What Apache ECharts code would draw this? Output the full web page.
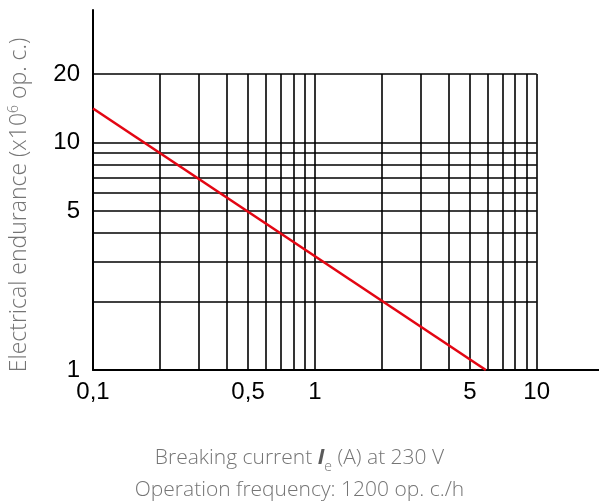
<!DOCTYPE html>
<html><head><meta charset="utf-8">
<script src="https://cdn.jsdelivr.net/npm/echarts@6/dist/echarts.min.js"></script>
<style>html,body{margin:0;padding:0;background:#fff}#c{width:599px;height:502px}</style>
</head><body><div id="c"></div>
<script>
// Tick labels
const xTickValues = [0.1, 0.5, 1, 5, 10];
const xTickLabels = ['0,1', '0,5', '1', '5', '10'];
const yTickValues = [1, 5, 10, 20];
const yTickLabels = ['1', '5', '10', '20'];
// Grid lines (log-paper style)
const xGridValues = [0.2, 0.3, 0.4, 0.5, 0.6, 0.7, 0.8, 0.9, 1, 2, 3, 4, 5, 6, 7, 8, 9, 10];
const yGridValues = [2, 3, 4, 5, 6, 7, 8, 9, 10, 20];
const gridXRange = [0.1, 10];
const gridYRange = [1, 20];
// Curve: breaking current (A) vs electrical endurance (x10^6 op. c.)
const currentA = [0.1, 5.9];
const endurance = [14.1, 1];

const gridLines = [];
xGridValues.forEach(v => gridLines.push([{coord: [v, gridYRange[0]]}, {coord: [v, gridYRange[1]]}]));
yGridValues.forEach(v => gridLines.push([{coord: [gridXRange[0], v]}, {coord: [gridXRange[1], v]}]));

const chart = echarts.init(document.getElementById('c'));
const tickFont = {fontFamily: '"Liberation Sans Narrow", "Arial Narrow", sans-serif', fontSize: 24, color: '#000'};
const textFont = '"Open Sans", "Liberation Sans", Arial, sans-serif';
const gray = '#757575';
chart.setOption({
  animation: false,
  backgroundColor: '#fff',
  title: {
    left: 'center', top: 437,
    text: '{n|Breaking current }{i|I}{s|e}{n| (A) at 230 V}\n{n|Operation frequency: 1200 op. c./h}',
    textStyle: {
      fontWeight: 'normal',
      rich: {
        n: {fontFamily: textFont, fontSize: 21, fontWeight: 300, color: gray, lineHeight: 32},
        i: {fontFamily: textFont, fontSize: 21, color: '#5a5a5a', fontWeight: 'bold', fontStyle: 'italic', lineHeight: 32},
        s: {fontFamily: textFont, fontSize: 14, fontWeight: 300, color: gray, verticalAlign: 'bottom', padding: [11, 0, 0, 0], lineHeight: 32}
      }
    }
  },
  grid: {left: 93, right: 0, top: 10, bottom: 132, containLabel: false, outerBoundsMode: 'none'},
  xAxis: {
    type: 'log', logBase: 10, min: 0.1, max: 19.1,
    axisLine: {show: true, lineStyle: {color: '#000', width: 2}},
    axisTick: {show: false},
    splitLine: {show: false},
    minorTick: {show: false}, minorSplitLine: {show: false},
    axisLabel: Object.assign({
      customValues: xTickValues, margin: 10,
      formatter: v => { const i = xTickValues.findIndex(t => Math.abs(t - v) / t < 1e-6); return i >= 0 ? xTickLabels[i] : ''; }
    }, tickFont)
  },
  yAxis: {
    type: 'log', logBase: 10, min: 1, max: 38.2,
    name: 'Electrical endurance (x10{sup|6} op. c.)',
    nameLocation: 'middle', nameGap: 62, nameRotate: 90,
    nameTextStyle: {fontFamily: textFont, fontSize: 23, fontWeight: 300, color: gray, padding: [0, 30, 0, 0],
      rich: {sup: {fontFamily: textFont, fontSize: 14, fontWeight: 300, color: gray, verticalAlign: 'top', padding: [0, 0, 10, 0]}}},
    axisLine: {show: true, lineStyle: {color: '#000', width: 2}},
    axisTick: {show: false},
    splitLine: {show: false},
    minorTick: {show: false}, minorSplitLine: {show: false},
    axisLabel: Object.assign({
      customValues: yTickValues, margin: 13,
      formatter: v => { const i = yTickValues.findIndex(t => Math.abs(t - v) / t < 1e-6); return i >= 0 ? yTickLabels[i] : ''; }
    }, tickFont)
  },
  series: [
    {
      type: 'line', silent: true, symbol: 'none', data: [],
      markLine: {silent: true, symbol: ['none', 'none'], label: {show: false},
        lineStyle: {color: '#000', width: 1.6, type: 'solid'}, emphasis: {disabled: true},
        data: gridLines}
    },
    {
      type: 'line', symbol: 'none', silent: true,
      lineStyle: {color: '#e30613', width: 2.6},
      data: currentA.map((x, i) => [x, endurance[i]]),
      z: 5
    }
  ]
});
</script></body></html>
